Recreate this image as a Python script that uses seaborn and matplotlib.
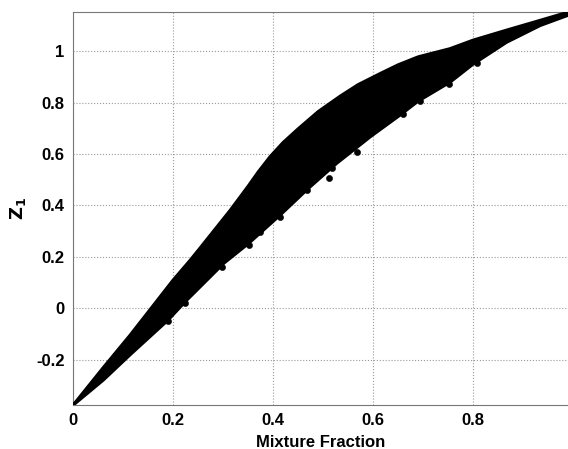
import numpy as np
import pandas as pd
import matplotlib
matplotlib.use('Agg')
import matplotlib.pyplot as plt
import seaborn as sns

# upper edge of the point cloud
up_x = [0.0, 0.06, 0.114, 0.2, 0.234, 0.254, 0.314, 0.35, 0.37, 0.394, 0.42, 0.45, 0.49, 0.534, 0.57, 0.614, 0.65, 0.69, 0.754, 0.8, 0.867, 0.934, 0.99]
up_z = [-0.376, -0.231, -0.104, 0.11, 0.187, 0.235, 0.381, 0.475, 0.53, 0.59, 0.645, 0.698, 0.765, 0.825, 0.87, 0.913, 0.947, 0.978, 1.01, 1.043, 1.082, 1.12, 1.152]

# lower edge of the point cloud
lo_x = [0.0, 0.06, 0.114, 0.19, 0.224, 0.254, 0.301, 0.351, 0.414, 0.47, 0.527, 0.594, 0.654, 0.69, 0.754, 0.8, 0.867, 0.934, 0.99]
lo_z = [-0.376, -0.279, -0.18, -0.045, 0.026, 0.084, 0.175, 0.253, 0.363, 0.466, 0.564, 0.667, 0.752, 0.806, 0.88, 0.95, 1.035, 1.10, 1.14]

# stray points sticking out below the band
out_x = [0.19, 0.224, 0.297, 0.351, 0.374, 0.414, 0.467, 0.511, 0.517, 0.568, 0.66, 0.694, 0.751, 0.807]
out_z = [-0.05, 0.02, 0.162, 0.245, 0.295, 0.355, 0.46, 0.505, 0.546, 0.609, 0.755, 0.805, 0.874, 0.955]

xticks = [0, 0.2, 0.4, 0.6, 0.8]
xtick_labels = ['0', '0.2', '0.4', '0.6', '0.8']
yticks = [-0.2, 0, 0.2, 0.4, 0.6, 0.8, 1.0]
ytick_labels = ['-0.2', '0', '0.2', '0.4', '0.6', '0.8', '1']

sns.set_style('white')
plt.rcParams['font.family'] = ['Liberation Sans', 'DejaVu Sans']

upper = pd.DataFrame({'x': up_x, 'z': up_z})
lower = pd.DataFrame({'x': lo_x, 'z': lo_z})
strays = pd.DataFrame({'x': out_x, 'z': out_z})

fig = plt.figure(figsize=(5.68, 4.49), dpi=100)
ax = fig.add_axes([73 / 568, 44 / 449, 495 / 568, 393 / 449])

# band = polygon from upper edge and reversed lower edge
poly_x = list(upper['x']) + list(lower['x'][::-1])
poly_z = list(upper['z']) + list(lower['z'][::-1])
ax.fill(poly_x, poly_z, color='black', lw=0, zorder=3)
sns.lineplot(data=upper, x='x', y='z', color='black', lw=2, ax=ax, zorder=3)
sns.lineplot(data=lower, x='x', y='z', color='black', lw=2.5, ax=ax, zorder=3)
sns.scatterplot(data=strays, x='x', y='z', color='black', s=20, edgecolor='black', ax=ax, zorder=3)

ax.set_xlim(0, 0.99)
ax.set_ylim(-0.376, 1.152)
ax.set_xticks(xticks)
ax.set_xticklabels(xtick_labels, fontsize=12, fontweight='bold', color='black')
ax.set_yticks(yticks)
ax.set_yticklabels(ytick_labels, fontsize=12, fontweight='bold', color='black')
ax.tick_params(direction='in', length=4, color='#555555', pad=6)
ax.grid(True, linestyle=':', color='#999999', lw=0.8)
ax.set_axisbelow(True)
for side in ['left', 'bottom', 'top']:
    ax.spines[side].set_color('#777777')
ax.spines['right'].set_visible(False)

ax.set_xlabel('Mixture Fraction', fontsize=12, fontweight='bold', color='black', labelpad=5)
ax.set_ylabel(r'$\mathbf{Z_1}$', fontsize=13, color='black', labelpad=6)

fig.savefig('out.png', dpi=100)
